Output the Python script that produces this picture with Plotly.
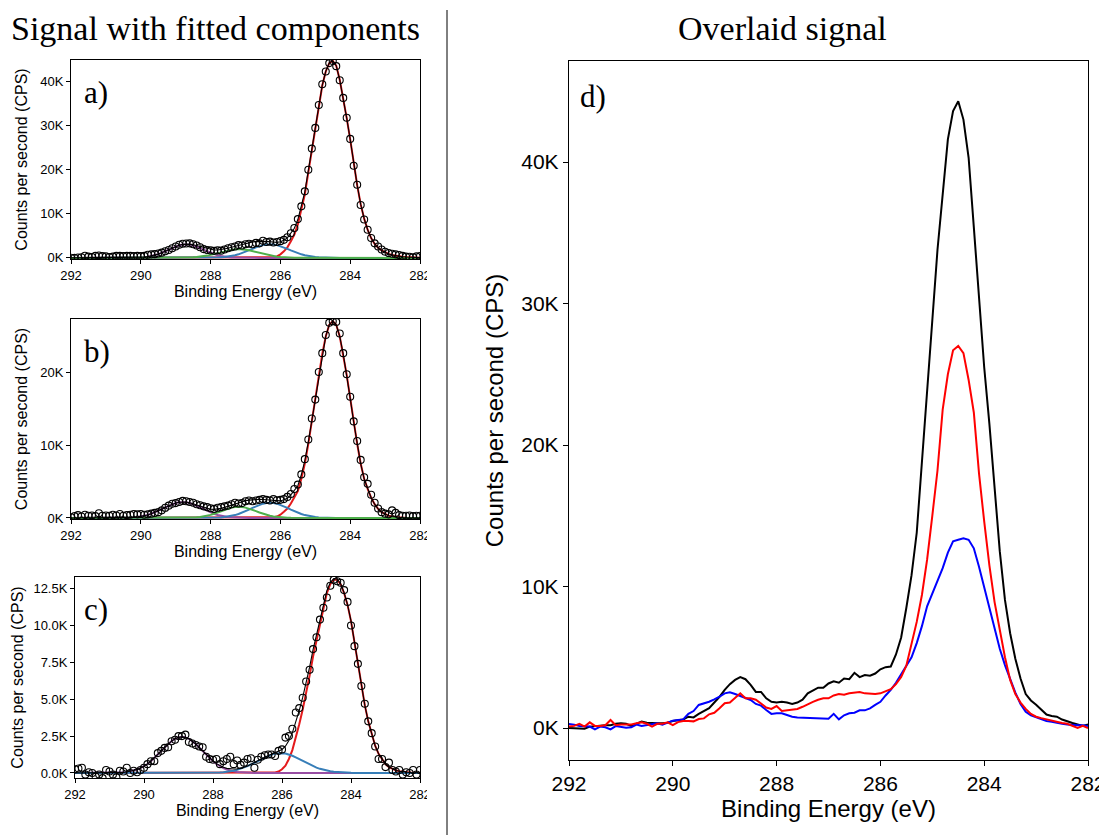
import plotly.graph_objects as go

# ---------------- data ----------------
energy = [round(292.0 - 0.1 * i, 1) for i in range(101)]  # 292.0 ... 282.0 eV

# panel a: measured points and fitted components (CPS)
counts_a = [
    50, 0, 100, 150, 500, 300, 200, 450, 550, 400,
    350, 200, 300, 450, 450, 400, 450, 450, 400, 450,
    400, 450, 700, 800, 850, 1000, 1200, 1500, 1800, 2200,
    2600, 3000, 3200, 3250, 3300, 3100, 2800, 2400, 2000, 1800,
    1700, 1600, 1700, 1650, 1900, 2200, 2400, 2600, 2900, 2800,
    3100, 3200, 3100, 3400, 3300, 3900, 3600, 3700, 3500, 3600,
    3800, 4100, 4700, 5600, 6800, 8800, 11700, 15100, 20000, 24800,
    29500, 34700, 39400, 42300, 44200, 44700, 43500, 40300, 36300, 31800,
    27000, 20900, 16600, 12000, 8700, 6400, 4500, 3300, 2600, 1900,
    1400, 1100, 950, 800, 650, 450, 300, 250, 150, 350,
    400]
red_a = [
    0, 0, 0, 0, 0, 0, 0, 0, 0, 0,
    0, 0, 0, 0, 0, 0, 0, 0, 0, 0,
    0, 0, 0, 0, 0, 0, 0, 0, 0, 0,
    0, 0, 0, 0, 0, 0, 0, 0, 0, 0,
    0, 0, 0, 0, 0, 0, 0, 0, 0, 0,
    0, 0, 0, 0, 0, 0, 0, 50, 150, 350,
    800, 1500, 2400, 3800, 5300, 7600, 10800, 14400, 19400, 24300,
    29200, 34400, 39100, 42300, 44200, 44700, 43600, 40400, 36300, 31700,
    26900, 21200, 16500, 12200, 8900, 6400, 4500, 3200, 2300, 1700,
    1250, 900, 650, 480, 360, 270, 200, 150, 110, 80,
    60]
purple_a = [
    0, 0, 0, 0, 0, 0, 0, 0, 0, 0,
    0, 0, 0, 0, 2, 5, 9, 19, 34, 62,
    105, 170, 280, 420, 610, 860, 1160, 1510, 1880, 2250,
    2590, 2860, 3040, 3100, 3040, 2860, 2590, 2250, 1880, 1510,
    1160, 860, 610, 420, 280, 170, 105, 62, 34, 19,
    9, 5, 2, 0, 0, 0, 0, 0, 0, 0,
    0, 0, 0, 0, 0, 0, 0, 0, 0, 0,
    0, 0, 0, 0, 0, 0, 0, 0, 0, 0,
    0, 0, 0, 0, 0, 0, 0, 0, 0, 0,
    0, 0, 0, 0, 0, 0, 0, 0, 0, 0,
    0]
blue_a = [
    0, 0, 0, 0, 0, 0, 0, 0, 0, 0,
    0, 0, 0, 0, 0, 0, 0, 0, 0, 0,
    0, 0, 0, 0, 0, 0, 0, 0, 0, 0,
    0, 0, 0, 0, 0, 0, 0, 4, 8, 15,
    25, 45, 75, 120, 190, 290, 420, 590, 810, 1080,
    1380, 1710, 2050, 2380, 2670, 2900, 3050, 3100, 3050, 2900,
    2670, 2380, 2050, 1710, 1380, 1080, 810, 590, 420, 290,
    190, 120, 75, 45, 25, 15, 8, 4, 0, 0,
    0, 0, 0, 0, 0, 0, 0, 0, 0, 0,
    0, 0, 0, 0, 0, 0, 0, 0, 0, 0,
    0]
green_a = [
    0, 0, 0, 0, 0, 0, 0, 0, 0, 0,
    0, 0, 0, 0, 0, 0, 0, 0, 0, 0,
    0, 0, 0, 0, 0, 0, 0, 0, 0, 5,
    10, 16, 30, 50, 80, 120, 190, 270, 380, 520,
    690, 890, 1100, 1320, 1540, 1720, 1870, 1970, 2000, 1970,
    1870, 1720, 1540, 1320, 1100, 890, 690, 520, 380, 270,
    190, 120, 80, 50, 30, 16, 10, 5, 0, 0,
    0, 0, 0, 0, 0, 0, 0, 0, 0, 0,
    0, 0, 0, 0, 0, 0, 0, 0, 0, 0,
    0, 0, 0, 0, 0, 0, 0, 0, 0, 0,
    0]

# panel b
counts_b = [
    100, 250, 400, 200, 450, 300, 350, 250, 650, 300,
    350, 300, 450, 350, 550, 300, 400, 450, 550, 500,
    550, 450, 500, 600, 700, 800, 1050, 1400, 1700, 1950,
    2050, 2200, 2350, 2300, 2200, 2100, 1900, 1750, 1600, 1500,
    1350, 1250, 1400, 1500, 1600, 1700, 1900, 2100, 2000, 2050,
    2300, 2400, 2300, 2400, 2500, 2600, 2500, 2400, 2600, 2450,
    2500, 2600, 2900, 3300, 4000, 4600, 6000, 8100, 10800, 13700,
    16300, 20100, 22700, 25200, 26900, 27100, 27000, 25400, 22700, 19800,
    16700, 13300, 10600, 8000, 5600, 4700, 3200, 2100, 1300, 800,
    600, 500, 1050, 700, 400, 300, 300, 350, 250, 300,
    300]
red_b = [
    0, 0, 0, 0, 0, 0, 0, 0, 0, 0,
    0, 0, 0, 0, 0, 0, 0, 0, 0, 0,
    0, 0, 0, 0, 0, 0, 0, 0, 0, 0,
    0, 0, 0, 0, 0, 0, 0, 0, 0, 0,
    0, 0, 0, 0, 0, 0, 0, 0, 0, 0,
    0, 0, 0, 0, 0, 0, 0, 50, 100, 200,
    450, 850, 1300, 2000, 2900, 3700, 5400, 7500, 10200, 13200,
    16500, 19700, 22600, 25000, 26600, 27100, 26600, 25000, 22600, 19700,
    16500, 13200, 10200, 7500, 5400, 4000, 2800, 1900, 1250, 800,
    500, 320, 200, 120, 70, 40, 20, 10, 0, 0,
    0]
purple_b = [
    0, 0, 0, 0, 0, 0, 0, 0, 0, 0,
    0, 0, 3, 6, 10, 18, 30, 50, 85, 130,
    200, 300, 420, 580, 760, 980, 1210, 1450, 1690, 1900,
    2060, 2160, 2200, 2160, 2060, 1900, 1690, 1450, 1210, 980,
    760, 580, 420, 300, 200, 130, 85, 50, 30, 18,
    10, 6, 3, 0, 0, 0, 0, 0, 0, 0,
    0, 0, 0, 0, 0, 0, 0, 0, 0, 0,
    0, 0, 0, 0, 0, 0, 0, 0, 0, 0,
    0, 0, 0, 0, 0, 0, 0, 0, 0, 0,
    0, 0, 0, 0, 0, 0, 0, 0, 0, 0,
    0]
blue_b = [
    0, 0, 0, 0, 0, 0, 0, 0, 0, 0,
    0, 0, 0, 0, 0, 0, 0, 0, 0, 0,
    0, 0, 0, 0, 0, 0, 0, 0, 0, 0,
    0, 0, 0, 0, 0, 0, 0, 3, 5, 10,
    17, 30, 50, 80, 130, 195, 280, 400, 550, 730,
    930, 1160, 1390, 1610, 1810, 1970, 2070, 2100, 2070, 1970,
    1810, 1610, 1390, 1160, 930, 730, 550, 400, 280, 195,
    130, 80, 50, 30, 17, 10, 5, 3, 0, 0,
    0, 0, 0, 0, 0, 0, 0, 0, 0, 0,
    0, 0, 0, 0, 0, 0, 0, 0, 0, 0,
    0]
green_b = [
    0, 0, 0, 0, 0, 0, 0, 0, 0, 0,
    0, 0, 0, 0, 0, 0, 0, 0, 0, 0,
    0, 0, 0, 0, 0, 0, 0, 0, 0, 0,
    0, 5, 9, 17, 30, 50, 90, 140, 210, 310,
    430, 580, 750, 940, 1130, 1290, 1430, 1520, 1550, 1520,
    1430, 1290, 1130, 940, 750, 580, 430, 310, 210, 140,
    90, 50, 30, 17, 9, 5, 0, 0, 0, 0,
    0, 0, 0, 0, 0, 0, 0, 0, 0, 0,
    0, 0, 0, 0, 0, 0, 0, 0, 0, 0,
    0, 0, 0, 0, 0, 0, 0, 0, 0, 0,
    0]

# panel c
counts_c = [
    250, 300, 350, -100, 50, 0, -250, -100, -350, 200,
    100, -100, -300, 150, 100, 350, 0, 150, 50, 200,
    350, 600, 800, 800, 1350, 1500, 1700, 1750, 2150, 2250,
    2500, 2500, 2600, 2100, 2000, 1900, 1800, 1750, 1100, 950,
    900, 950, 600, 800, 950, 1100, 600, 850, 550, 700,
    950, 1000, 350, 900, 1100, 1200, 1250, 1250, 1150, 1500,
    1600, 2400, 2500, 3000, 4100, 4400, 5100, 6200, 7000, 8400,
    9200, 10400, 11200, 11900, 12700, 13100, 13000, 12900, 12400, 11600,
    10000, 8600, 7400, 5900, 4700, 3500, 2700, 1800, 950, 950,
    400, 700, 200, 100, 200, -100, 50, 0, 200, -100,
    200]
red_c = [
    0, 0, 0, 0, 0, 0, 0, 0, 0, 0,
    0, 0, 0, 0, 0, 0, 0, 0, 0, 0,
    0, 0, 0, 0, 0, 0, 0, 0, 0, 0,
    0, 0, 0, 0, 0, 0, 0, 0, 0, 0,
    0, 0, 0, 0, 0, 0, 0, 0, 0, 0,
    0, 0, 0, 0, 0, 0, 0, 0, 40, 100,
    250, 500, 950, 1550, 2400, 3300, 4300, 5400, 6600, 7900,
    9000, 10200, 11300, 12200, 12800, 13100, 13100, 12800, 12200, 11400,
    10300, 8900, 7400, 5900, 4600, 3500, 2600, 1850, 1300, 900,
    600, 400, 270, 180, 120, 80, 50, 30, 20, 10,
    0]
purple_c = [
    0, 0, 0, 0, 0, 0, 0, 0, 0, 0,
    5, 10, 16, 27, 44, 70, 110, 160, 235, 330,
    455, 610, 800, 1010, 1240, 1490, 1730, 1960, 2160, 2320,
    2415, 2450, 2415, 2320, 2160, 1960, 1730, 1490, 1240, 1010,
    800, 610, 455, 330, 235, 160, 110, 70, 44, 27,
    16, 10, 5, 0, 0, 0, 0, 0, 0, 0,
    0, 0, 0, 0, 0, 0, 0, 0, 0, 0,
    0, 0, 0, 0, 0, 0, 0, 0, 0, 0,
    0, 0, 0, 0, 0, 0, 0, 0, 0, 0,
    0, 0, 0, 0, 0, 0, 0, 0, 0, 0,
    0]
blue_c = [
    0, 0, 0, 0, 0, 0, 0, 0, 0, 0,
    0, 0, 0, 0, 0, 0, 0, 0, 0, 0,
    0, 0, 0, 0, 0, 0, 0, 0, 0, 0,
    0, 0, 0, 0, 0, 0, 0, 0, 5, 9,
    15, 23, 36, 54, 78, 112, 157, 212, 282, 366,
    464, 574, 694, 820, 944, 1062, 1168, 1254, 1315, 1346,
    1346, 1315, 1254, 1168, 1062, 944, 820, 694, 574, 464,
    366, 282, 212, 157, 112, 78, 54, 36, 23, 15,
    9, 5, 0, 0, 0, 0, 0, 0, 0, 0,
    0, 0, 0, 0, 0, 0, 0, 0, 0, 0,
    0]

# panel d: overlaid signals (CPS)
overlay_black = [
    0, 0, 0, -50, 100, 150, 150, 200, 200, 300,
    330, 300, 150, 300, 450, 380, 330, 330, 330, 380,
    500, 570, 600, 800, 750, 1000, 1200, 1400, 1800, 2200,
    2700, 3100, 3400, 3600, 3450, 3050, 2550, 2550, 2100, 1850,
    1800, 1850, 1800, 1700, 1800, 2000, 2450, 2650, 2850, 2850,
    3150, 3300, 3200, 3500, 3450, 3900, 3600, 3750, 3700, 3850,
    4150, 4300, 4350, 5200, 6400, 8500, 10800, 13800, 18600, 23500,
    28800, 33800, 38000, 41600, 43600, 44300, 43000, 40300, 35400, 30500,
    25500, 21500, 16800, 12500, 9050, 6700, 4900, 3500, 2400, 1950,
    1650, 1300, 950, 850, 800, 600, 450, 350, 250, 150,
    250]
overlay_red = [
    100, 150, 300, 100, 400, 150, 150, 200, 570, 200,
    250, 250, 250, 330, 400, 300, 100, 300, 300, 400,
    200, 420, 500, 500, 470, 640, 680, 970, 1080, 1400,
    1750, 1800, 2100, 2450, 2100, 2100, 2000, 1750, 1450, 1350,
    1550, 1200, 1250, 1350, 1350, 1500, 1700, 1850, 2000, 2100,
    2100, 2300, 2400, 2350, 2450, 2500, 2550, 2450, 2420, 2400,
    2450, 2600, 2750, 3100, 3600, 4400, 5900, 7500, 9400, 11900,
    15000, 18200, 22500, 25000, 26700, 27000, 26500, 24600, 22300, 18000,
    14600, 11500, 8900, 6800, 5000, 3400, 2400, 1800, 1350, 1000,
    800, 700, 600, 550, 450, 350, 300, 150, 0, 150,
    0]
overlay_blue = [
    280, 240, 140, 100, 100, -100, 100, 50, -100, 140,
    100, 20, 50, 240, 140, 190, 240, 330, 240, 380,
    520, 570, 610, 1000, 1200, 1630, 1740, 1860, 2030, 2210,
    2450, 2520, 2400, 2260, 2170, 1980, 1700, 1580, 1270, 1000,
    1040, 1040, 920, 800, 750, 730, 730, 680, 680, 660,
    660, 1000, 610, 900, 1040, 1080, 1250, 1250, 1390, 1630,
    1850, 2300, 2700, 3200, 3800, 4500, 5000, 6000, 7200, 8600,
    9500, 10500, 11300, 12400, 13200, 13300, 13400, 13300, 12700, 11400,
    10000, 8400, 7000, 5600, 4450, 3400, 2500, 1700, 1150, 900,
    750, 600, 500, 450, 350, 300, 250, 200, 200, 200,
    150]

x_ticks = [292, 290, 288, 286, 284, 282]
y_ticks_a = [0, 10000, 20000, 30000, 40000]
y_text_a = ["0K", "10K", "20K", "30K", "40K"]
y_ticks_b = [0, 10000, 20000]
y_text_b = ["0K", "10K", "20K"]
y_ticks_c = [0, 2500, 5000, 7500, 10000, 12500]
y_text_c = ["0.0K", "2.5K", "5.0K", "7.5K", "10.0K", "12.5K"]
y_ticks_d = [0, 10000, 20000, 30000, 40000]
y_text_d = ["0K", "10K", "20K", "30K", "40K"]

# ---------------- figure ----------------
W, H = 1099, 835
RED, PURPLE, BLUE, GREEN = "#e41a1c", "#984ea3", "#377eb8", "#4daf4a"
SANS = "Liberation Sans, Arial, sans-serif"
SERIF = "Liberation Serif, Times New Roman, serif"

fig = go.Figure()


def px_x(p):
    return p / W


def px_y(p):
    return 1 - p / H


def add_fit_panel(n, counts, comps):
    xa = "x" if n == 1 else f"x{n}"
    ya = "y" if n == 1 else f"y{n}"
    envelope = [sum(v) for v in zip(*[c for c, _ in comps])]
    for comp, col in comps:
        fig.add_trace(go.Scatter(x=energy, y=comp, mode="lines",
                                 line=dict(color=col, width=2),
                                 xaxis=xa, yaxis=ya, showlegend=False))
    fig.add_trace(go.Scatter(x=energy, y=envelope, mode="lines",
                             line=dict(color="black", width=1.1),
                             xaxis=xa, yaxis=ya, showlegend=False))
    fig.add_trace(go.Scatter(x=energy, y=counts, mode="markers",
                             marker=dict(symbol="circle-open", size=7,
                                         color="black", line=dict(width=1.1)),
                             xaxis=xa, yaxis=ya, showlegend=False))


add_fit_panel(1, counts_a, [(red_a, RED), (purple_a, PURPLE), (blue_a, BLUE), (green_a, GREEN)])
add_fit_panel(2, counts_b, [(red_b, RED), (purple_b, PURPLE), (blue_b, BLUE), (green_b, GREEN)])
add_fit_panel(3, counts_c, [(red_c, RED), (purple_c, PURPLE), (blue_c, BLUE)])

for series, col in [(overlay_black, "black"), (overlay_blue, "#0000ff"), (overlay_red, "#ff0000")]:
    fig.add_trace(go.Scatter(x=energy, y=series, mode="lines",
                             line=dict(color=col, width=2),
                             xaxis="x4", yaxis="y4", showlegend=False))


def xaxis(domain, anchor, tsize, tlen, title_size, standoff, lw=1):
    return dict(domain=domain, anchor=anchor, range=[292, 282], tickvals=x_ticks,
                ticks="outside", ticklen=tlen, tickwidth=1, tickcolor="black",
                showline=True, mirror=True, linecolor="black", linewidth=lw,
                showgrid=False, zeroline=False, automargin=False,
                ticklabeloverflow="allow",
                tickfont=dict(family=SANS, size=tsize, color="black"),
                title=dict(text="Binding Energy (eV)", standoff=standoff,
                           font=dict(family=SANS, size=title_size, color="black")))


def yaxis(domain, anchor, rng, tv, tt, tsize, tlen, title_size, standoff, lw=1):
    return dict(domain=domain, anchor=anchor, range=rng, tickvals=tv, ticktext=tt,
                ticks="outside", ticklen=tlen, tickwidth=1, tickcolor="black",
                showline=True, mirror=True, linecolor="black", linewidth=lw,
                showgrid=False, zeroline=False, automargin=False,
                tickfont=dict(family=SANS, size=tsize, color="black"),
                title=dict(text="Counts per second (CPS)", standoff=standoff,
                           font=dict(family=SANS, size=title_size, color="black")))


xa_dom = [px_x(71), px_x(420)]
xc_dom = [px_x(75), px_x(420)]
xd_dom = [px_x(569), px_x(1088)]

fig.update_layout(
    width=W, height=H, autosize=False,
    margin=dict(l=0, r=0, t=0, b=0, pad=0, autoexpand=False),
    paper_bgcolor="white", plot_bgcolor="white",
    showlegend=False,
    xaxis=xaxis(xa_dom, "y", 13, 4, 16, 3),
    yaxis=yaxis([px_y(259), px_y(60)], "x", [-250, 44900], y_ticks_a, y_text_a, 13, 4, 16, 8),
    xaxis2=xaxis(xa_dom, "y2", 13, 4, 16, 3),
    yaxis2=yaxis([px_y(519), px_y(319)], "x2", [-140, 27400], y_ticks_b, y_text_b, 13, 4, 16, 8),
    xaxis3=xaxis(xc_dom, "y3", 13, 4, 16, 3),
    yaxis3=yaxis([px_y(778), px_y(577)], "x3", [-340, 13290], y_ticks_c, y_text_c, 13, 4, 16, 5),
    xaxis4=xaxis(xd_dom, "y4", 21, 5, 24, 4, 1.3),
    yaxis4=yaxis([px_y(760), px_y(61)], "x4", [-2260, 47140], y_ticks_d, y_text_d, 21, 5, 24, 10, 1.3),
)

annotations = [
    dict(text="Signal with fitted components", x=px_x(215), y=px_y(28),
         font=dict(family=SERIF, size=34, color="black")),
    dict(text="Overlaid signal", x=px_x(782), y=px_y(28),
         font=dict(family=SERIF, size=34, color="black")),
    dict(text="a)", x=px_x(82), y=px_y(92), xanchor="left",
         font=dict(family=SERIF, size=31, color="black")),
    dict(text="b)", x=px_x(82), y=px_y(351), xanchor="left",
         font=dict(family=SERIF, size=31, color="black")),
    dict(text="c)", x=px_x(82), y=px_y(609), xanchor="left",
         font=dict(family=SERIF, size=31, color="black")),
    dict(text="d)", x=px_x(578), y=px_y(97), xanchor="left",
         font=dict(family=SERIF, size=31, color="black")),
]
for a in annotations:
    a.update(xref="paper", yref="paper", showarrow=False)
    a.setdefault("xanchor", "center")
    a.setdefault("yanchor", "middle")
fig.update_layout(annotations=annotations)

fig.update_layout(shapes=[
    dict(type="rect", xref="paper", yref="paper", x0=px_x(427), x1=px_x(446),
         y0=0, y1=1, fillcolor="white", line=dict(width=0), layer="above"),
    dict(type="line", xref="paper", yref="paper", x0=px_x(447), x1=px_x(447),
         y0=0, y1=px_y(10), line=dict(color="black", width=1), layer="above"),
])

fig.write_html(
    "out.html",
    config={"displayModeBar": False},
    post_script="document.body.style.margin='0';document.body.style.overflow='hidden';",
)
